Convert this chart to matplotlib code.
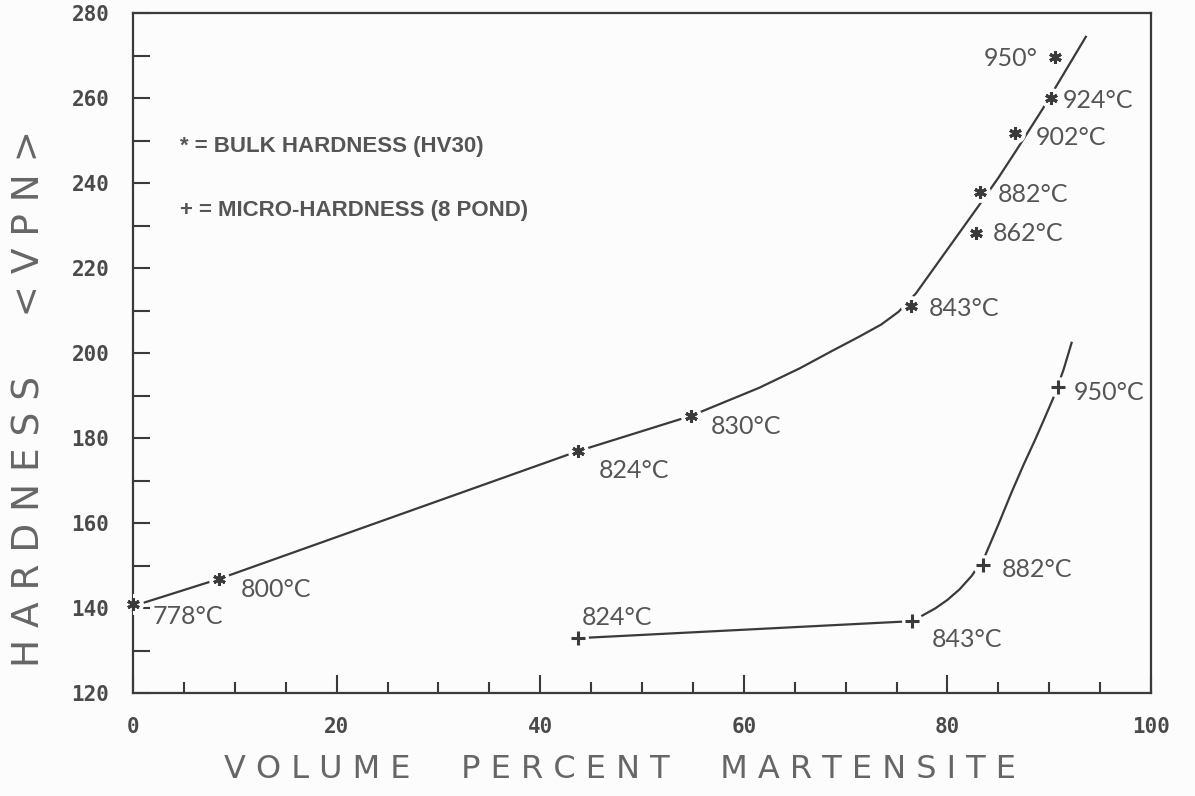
import numpy as np
import matplotlib.pyplot as plt
from matplotlib.ticker import MultipleLocator

# bulk hardness (HV30) vs. volume percent martensite, by quench temperature
bulk_temps = ['778°C', '800°C', '824°C', '830°C', '843°C', '862°C', '882°C', '902°C', '924°C', '950°']
bulk_x = [0.0, 8.4, 43.7, 54.8, 76.4, 82.8, 83.2, 86.6, 90.2, 90.6]
bulk_y = [141.0, 146.8, 176.9, 185.2, 211.0, 228.2, 237.9, 251.8, 260.0, 269.6]

# micro-hardness (8 pond)
micro_temps = ['824°C', '843°C', '882°C', '950°C']
micro_x = [43.7, 76.5, 83.5, 90.9]
micro_y = [132.9, 136.9, 150.1, 192.0]

# hand-drawn trend curves
bulk_curve_x = [1.0, 8.4, 43.7, 54.8, 61.5, 65.5, 68.6, 71.3, 73.5, 75.2, 76.9, 80.1, 83.0, 85.0, 86.8, 89.4, 93.6]
bulk_curve_y = [141.2, 146.8, 176.9, 185.2, 191.8, 196.4, 200.4, 203.8, 206.7, 209.7, 214.0, 224.7, 234.4, 241.2, 247.8, 257.6, 274.4]
micro_curve_x = [43.7, 76.5, 77.6, 78.8, 80.0, 81.2, 82.4, 83.7, 85.0, 86.3, 87.5, 88.6, 89.5, 90.4, 91.4, 92.2]
micro_curve_y = [132.9, 136.9, 138.3, 139.9, 141.9, 144.4, 147.6, 152.3, 159.6, 167.2, 173.8, 179.5, 184.4, 189.4, 196.0, 202.4]

# label offsets in pixels (dx, dy, ha)
bulk_offsets = [(20, -13, 'left'), (22, -10, 'left'), (21, -19, 'left'), (20, -11, 'left'),
                (18, -2, 'left'), (17, 0, 'left'), (18, -3, 'left'), (21, -5, 'left'),
                (12, -3, 'left'), (-18, -1, 'right')]
micro_offsets = [(4, 21, 'left'), (20, -18, 'left'), (19, -4, 'left'), (15, -6, 'left')]

ink = '#3a3a3a'
txt = '#555555'
label_font = ['Lato', 'DejaVu Sans']

fig = plt.figure(figsize=(11.95, 7.96), dpi=100, facecolor='#fcfcfc')
ax = fig.add_axes([133 / 1195, 103 / 796, 1018 / 1195, 680 / 796])
ax.set_facecolor('#fcfcfc')

ax.plot(bulk_curve_x, bulk_curve_y, color=ink, lw=1.6, zorder=2)
ax.plot(micro_curve_x, micro_curve_y, color=ink, lw=1.6, zorder=2)

# white halo so the pen line breaks around each point
ax.plot(bulk_x, bulk_y, 'o', ms=15, color='#fcfcfc', mec='none', zorder=3)
ax.plot(micro_x, micro_y, 'o', ms=15, color='#fcfcfc', mec='none', zorder=3)
ax.plot(bulk_x, bulk_y, marker=(6, 2, 0), ls='none', ms=9, mew=2.2, color=ink, zorder=4, clip_on=False)
ax.plot(micro_x, micro_y, '+', ms=10, mew=2.2, color=ink, zorder=4)

for t, x, y, (dx, dy, ha) in zip(bulk_temps, bulk_x, bulk_y, bulk_offsets):
    ax.annotate(t, (x, y), xytext=(dx, dy), textcoords='offset pixels', ha=ha, va='center',
                fontsize=18, color=txt, family=label_font)
for t, x, y, (dx, dy, ha) in zip(micro_temps, micro_x, micro_y, micro_offsets):
    ax.annotate(t, (x, y), xytext=(dx, dy), textcoords='offset pixels', ha=ha, va='center',
                fontsize=18, color=txt, family=label_font)

key_font = ['Liberation Sans', 'DejaVu Sans']
ax.text(0.046, 0.803, '* = BULK HARDNESS (HV30)', transform=ax.transAxes, ha='left', va='center',
        fontsize=16, color=txt, family=key_font, fontweight='bold')
ax.text(0.046, 0.710, '+ = MICRO-HARDNESS (8 POND)', transform=ax.transAxes, ha='left', va='center',
        fontsize=16, color=txt, family=key_font, fontweight='bold')

ax.set_xlim(0, 100)
ax.set_ylim(120, 280)
ax.xaxis.set_major_locator(MultipleLocator(20))
ax.xaxis.set_minor_locator(MultipleLocator(5))
ax.yaxis.set_major_locator(MultipleLocator(20))
ax.yaxis.set_minor_locator(MultipleLocator(10))
ax.tick_params(which='both', direction='in', color=ink, width=1.5, top=False, right=False)
ax.tick_params(axis='x', which='major', length=13, pad=17)
ax.tick_params(axis='x', which='minor', length=8)
ax.tick_params(axis='y', which='both', length=12, pad=17)
for lab in ax.get_xticklabels() + ax.get_yticklabels():
    lab.set_family(['DejaVu Sans Mono'])
    lab.set_fontweight('bold')
    lab.set_fontsize(15)
    lab.set_color('#4a4a4a')
for s in ax.spines.values():
    s.set_color(ink)
    s.set_linewidth(1.6)

# plotter-style lettering, widely spaced
fig.text(30 / 1195, 1 - 398 / 796, 'H A R D N E S S     < V P N >', rotation=90, ha='center', va='center',
         fontsize=27, color='#666666', family=['DejaVu Sans'])
fig.text(620 / 1195, 1 - 770 / 796, 'V O L U M E     P E R C E N T     M A R T E N S I T E',
         ha='center', va='center', fontsize=23, color='#666666', family=['DejaVu Sans'])

fig.savefig('out.png', dpi=100, facecolor=fig.get_facecolor())
